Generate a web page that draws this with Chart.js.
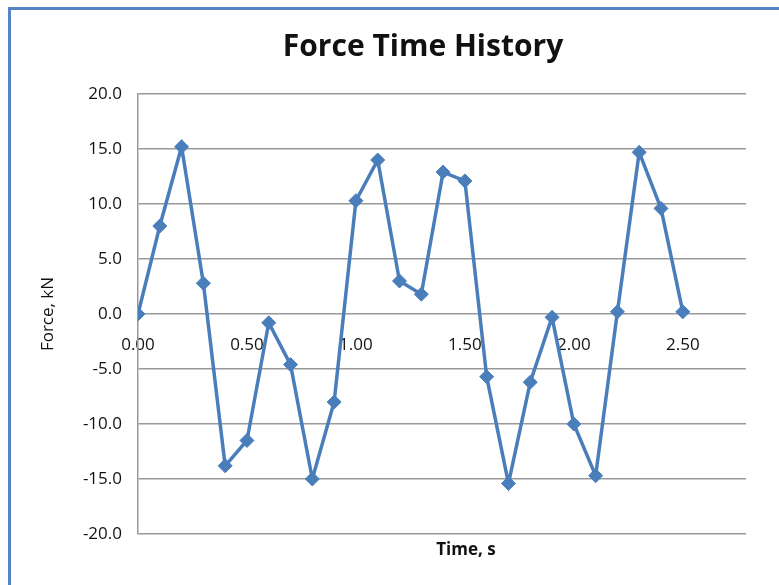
<!DOCTYPE html>
<html>
<head>
<meta charset="utf-8">
<script src="https://cdn.jsdelivr.net/npm/chart.js@4/dist/chart.umd.min.js"></script>
<style>
  html, body { margin: 0; padding: 0; background: #fff; overflow: hidden; }
  #wrap { position: relative; width: 779px; height: 585px; }
  #frame {
    position: absolute; left: 8px; top: 7px; width: 800px; height: 600px;
    border-left: 3px solid #5585c4; border-top: 3px solid #5585c4;
    pointer-events: none;
  }
</style>
</head>
<body>
<div id="wrap">
  <canvas id="chart" width="779" height="585"></canvas>
  <div id="frame"></div>
</div>
<script>
// time in seconds
const times = [0.0, 0.1, 0.2, 0.3, 0.4, 0.5, 0.6, 0.7, 0.8, 0.9, 1.0, 1.1, 1.2,
               1.3, 1.4, 1.5, 1.6, 1.7, 1.8, 1.9, 2.0, 2.1, 2.2, 2.3, 2.4, 2.5];
// force in kN
const forces = [0.0, 8.0, 15.2, 2.8, -13.8, -11.5, -0.8, -4.6, -15.0, -8.0, 10.3, 14.0, 3.0,
                1.8, 12.9, 12.1, -5.7, -15.4, -6.2, -0.3, -10.0, -14.7, 0.2, 14.7, 9.6, 0.2];

const chartTitle = 'Force Time History';
const xTitle = 'Time, s';
const yTitle = 'Force, kN';

const FONT = '"Open Sans", "Liberation Sans", sans-serif';
const gridColor = '#999999';

// Excel had the chart title and the x title off centre, so draw them here
const titlesPlugin = {
    id: 'excelTitles',
    afterDraw(chart) {
        const { ctx, chartArea } = chart;
        const mid = (chartArea.left + chartArea.right) / 2;
        ctx.save();
        ctx.fillStyle = '#111';
        ctx.textAlign = 'center';
        ctx.textBaseline = 'middle';
        ctx.font = 'bold 30px ' + FONT;
        ctx.fillText(chartTitle, mid - 19, 47);
        ctx.font = 'bold 17px ' + FONT;
        ctx.fillText(xTitle, mid + 24, 550);
        ctx.restore();
    }
};

new Chart(document.getElementById('chart'), {
    type: 'line',
    data: {
        datasets: [{
            data: times.map((t, i) => ({ x: t, y: forces[i] })),
            borderColor: '#4a7ebb',
            backgroundColor: '#4a7ebb',
            borderWidth: 3.5,
            pointStyle: 'rectRot',
            pointRadius: 7,
            pointBorderWidth: 1,
            tension: 0
        }]
    },
    options: {
        responsive: false,
        animation: false,
        layout: { padding: { left: 0, top: 94, right: 33, bottom: 51 } },
        plugins: {
            legend: { display: false },
            tooltip: { enabled: false },
            title: { display: false }
        },
        scales: {
            x: {
                type: 'linear',
                position: { y: 0 },
                min: 0,
                max: 2.79,
                grid: { display: false, drawTicks: false },
                border: { display: false },
                ticks: {
                    stepSize: 0.5,
                    includeBounds: false,
                    padding: 21,
                    color: '#111',
                    font: { family: FONT, size: 17 },
                    maxRotation: 0,
                    callback: v => v.toFixed(2)
                }
            },
            y: {
                min: -20,
                max: 20,
                afterFit(scale) { scale.width = 138; },
                grid: { color: gridColor, lineWidth: 1.5, drawTicks: false },
                border: { display: true, color: gridColor, width: 1.5 },
                ticks: {
                    stepSize: 5,
                    padding: 16,
                    color: '#111',
                    font: { family: FONT, size: 17 },
                    callback: v => v.toFixed(1)
                },
                title: {
                    display: true,
                    text: yTitle,
                    color: '#111',
                    font: { family: FONT, size: 17 },
                    padding: { top: 38, bottom: 0 }
                }
            }
        }
    },
    plugins: [titlesPlugin]
});
</script>
</body>
</html>
